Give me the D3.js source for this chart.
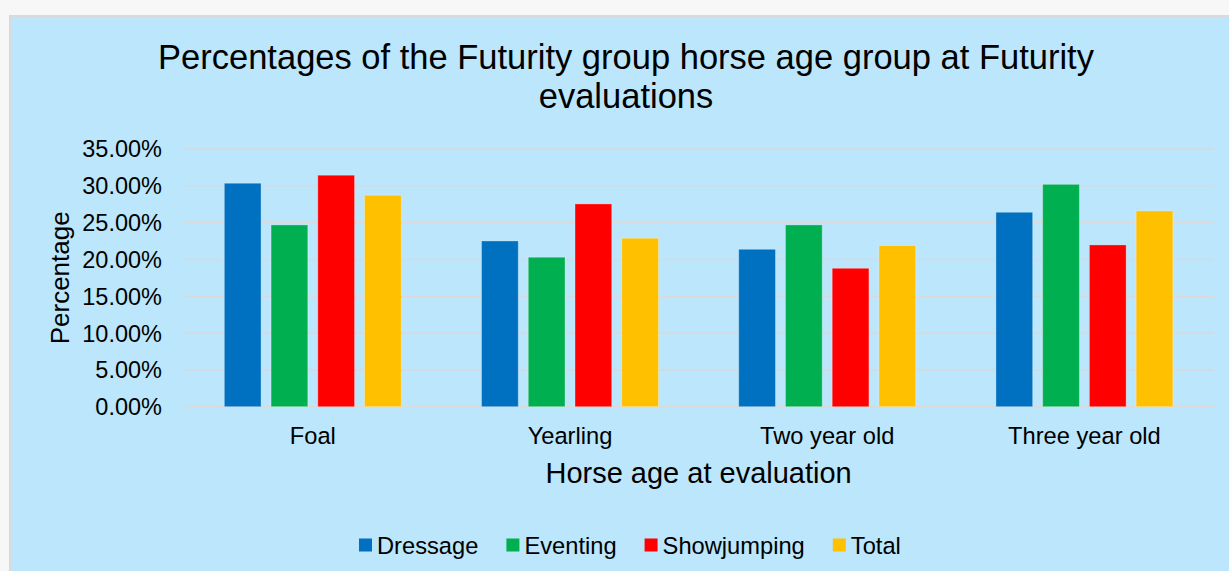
<!DOCTYPE html>
<html>
<head>
<meta charset="utf-8">
<script src="https://cdn.jsdelivr.net/npm/d3@7/dist/d3.min.js"></script>
<style>
  html, body { margin: 0; padding: 0; background: #f7f7f7; }
  svg { display: block; }
  text { font-family: "Liberation Sans", Arial, sans-serif; fill: #000; }
</style>
</head>
<body>
<svg id="chart" width="1229" height="571"></svg>
<script>
const categories = ["Foal", "Yearling", "Two year old", "Three year old"];
const seriesNames = ["Dressage", "Eventing", "Showjumping", "Total"];
const seriesColors = ["#0070C0", "#00B050", "#FF0000", "#FFC000"];
const dressage    = [30.35, 22.51, 21.38, 26.41];
const eventing    = [24.69, 20.30, 24.69, 30.20];
const showjumping = [31.44, 27.54, 18.80, 21.97];
const total       = [28.72, 22.88, 21.88, 26.59];
const yTicks = [0, 5, 10, 15, 20, 25, 30, 35];
const titleLines = ["Percentages of the Futurity group horse age group at Futurity", "evaluations"];
const xTitle = "Horse age at evaluation";
const yTitle = "Percentage";

const seriesValues = [dressage, eventing, showjumping, total];

const svg = d3.select("#chart");

// chart area
svg.append("rect")
  .attr("x", 10).attr("y", 16)
  .attr("width", 1240).attr("height", 570)
  .attr("fill", "#BBE6FC")
  .attr("stroke", "#D9D9D9").attr("stroke-width", 2);

const plot = { left: 184.2, right: 1213, top: 149, bottom: 406.7 };

const y = d3.scaleLinear().domain([0, 35]).range([plot.bottom, plot.top]);
const x0 = d3.scaleBand().domain(categories).range([plot.left, plot.right])
  .paddingInner(0.312).paddingOuter(0.156);
const x1 = d3.scaleBand().domain(seriesNames).range([0, x0.bandwidth()])
  .paddingInner(0.214).paddingOuter(0);

// gridlines
svg.append("g").selectAll("line").data(yTicks).join("line")
  .attr("x1", plot.left).attr("x2", plot.right)
  .attr("y1", d => y(d)).attr("y2", d => y(d))
  .attr("stroke", "#D9D9D9").attr("stroke-width", 1.5);

// y tick labels
svg.append("g").selectAll("text").data(yTicks).join("text")
  .attr("x", 162).attr("y", d => y(d))
  .attr("dy", "0.36em")
  .attr("text-anchor", "end")
  .attr("font-size", "23.5px")
  .text(d => d.toFixed(2) + "%");

// bars
const groups = svg.append("g").selectAll("g").data(categories).join("g")
  .attr("transform", c => `translate(${x0(c)},0)`);

groups.selectAll("rect")
  .data((c, ci) => seriesNames.map((s, si) => ({ s, si, v: seriesValues[si][ci] })))
  .join("rect")
  .attr("x", d => x1(d.s))
  .attr("y", d => y(d.v))
  .attr("width", x1.bandwidth())
  .attr("height", d => y(0) - y(d.v))
  .attr("fill", d => seriesColors[d.si])
  .attr("stroke", "rgba(255,255,255,0.3)")
  .attr("stroke-width", 1);

// x tick labels
svg.append("g").selectAll("text").data(categories).join("text")
  .attr("x", c => x0(c) + x0.bandwidth() / 2)
  .attr("y", 444)
  .attr("text-anchor", "middle")
  .attr("font-size", "23.7px")
  .text(c => c);

// titles
svg.append("g").selectAll("text").data(titleLines).join("text")
  .attr("x", 626)
  .attr("y", (d, i) => 69 + i * 38.5)
  .attr("text-anchor", "middle")
  .attr("font-size", "34.5px")
  .text(d => d);

svg.append("text")
  .attr("x", (plot.left + plot.right) / 2)
  .attr("y", 483)
  .attr("text-anchor", "middle")
  .attr("font-size", "29px")
  .text(xTitle);

svg.append("text")
  .attr("transform", `translate(69,${(plot.top + plot.bottom) / 2}) rotate(-90)`)
  .attr("text-anchor", "middle")
  .attr("font-size", "26px")
  .text(yTitle);

// legend
const legend = svg.append("g");
let lx = 359;
const ly = 545;
seriesNames.forEach((name, i) => {
  legend.append("rect")
    .attr("x", lx).attr("y", ly - 6.5)
    .attr("width", 13).attr("height", 13)
    .attr("fill", seriesColors[i]);
  const t = legend.append("text")
    .attr("x", lx + 18).attr("y", ly)
    .attr("dy", "0.36em")
    .attr("font-size", "23.7px")
    .text(name);
  lx += 18 + t.node().getComputedTextLength() + 28;
});
</script>
</body>
</html>
